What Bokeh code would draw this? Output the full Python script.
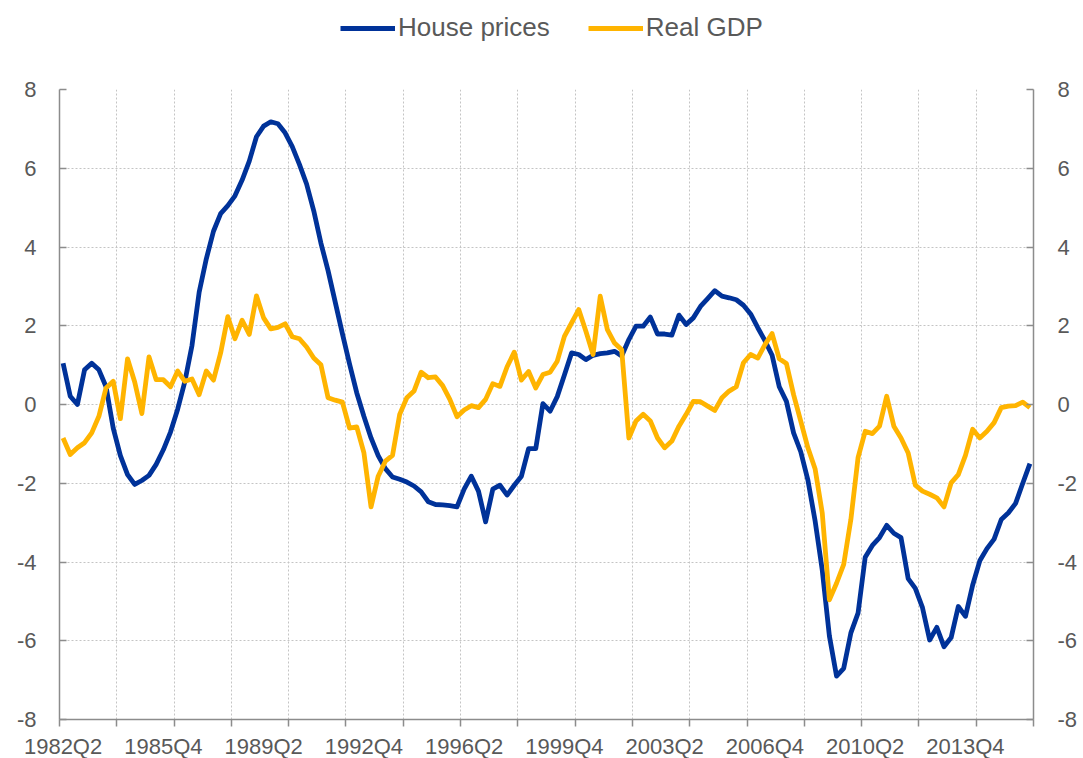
from bokeh.plotting import figure
from bokeh.layouts import column
from bokeh.models import ColumnDataSource, FixedTicker, LinearAxis, Legend, LegendItem, Range1d
from bokeh.embed import file_html
from bokeh.resources import INLINE

# Quarterly categories 1982Q2 .. 2016Q1
quarters = [f"{1982 + (k + 1) // 4}Q{(k + 1) % 4 + 1}" for k in range(136)]

house_prices = [
    1.05, 0.21, 0.00, 0.88, 1.05, 0.88, 0.45, -0.60, -1.30, -1.78,
    -2.03, -1.93, -1.80, -1.52, -1.15, -0.70, -0.12, 0.58, 1.50, 2.85,
    3.70, 4.40, 4.85, 5.05, 5.30, 5.70, 6.18, 6.80, 7.07, 7.18,
    7.13, 6.90, 6.55, 6.10, 5.60, 4.92, 4.10, 3.40, 2.60, 1.80,
    1.03, 0.30, -0.30, -0.85, -1.30, -1.63, -1.84, -1.90, -1.97, -2.07,
    -2.22, -2.47, -2.54, -2.55, -2.57, -2.60, -2.15, -1.82, -2.20, -2.98,
    -2.15, -2.05, -2.30, -2.05, -1.82, -1.12, -1.12, 0.02, -0.17, 0.20,
    0.75, 1.31, 1.27, 1.14, 1.25, 1.29, 1.31, 1.35, 1.23, 1.65,
    1.99, 1.99, 2.22, 1.79, 1.79, 1.76, 2.27, 2.03, 2.20, 2.49,
    2.69, 2.89, 2.75, 2.71, 2.66, 2.52, 2.30, 1.95, 1.62, 1.25,
    0.45, 0.08, -0.72, -1.20, -1.92, -2.95, -4.20, -5.88, -6.90, -6.70,
    -5.80, -5.30, -3.88, -3.58, -3.38, -3.07, -3.27, -3.38, -4.42, -4.67,
    -5.16, -5.98, -5.66, -6.15, -5.92, -5.13, -5.38, -4.59, -3.97, -3.66,
    -3.42, -2.92, -2.75, -2.51, -2.00, -1.50,
]

real_gdp = [
    -0.85, -1.27, -1.10, -0.97, -0.72, -0.30, 0.42, 0.59, -0.36, 1.16,
    0.57, -0.23, 1.21, 0.63, 0.63, 0.45, 0.85, 0.59, 0.65, 0.25,
    0.85, 0.62, 1.31, 2.23, 1.67, 2.14, 1.78, 2.76, 2.20, 1.92,
    1.96, 2.05, 1.72, 1.67, 1.46, 1.18, 1.01, 0.17, 0.11, 0.06,
    -0.60, -0.57, -1.22, -2.60, -1.82, -1.44, -1.29, -0.25, 0.17, 0.34,
    0.82, 0.68, 0.70, 0.48, 0.13, -0.31, -0.14, -0.03, -0.08, 0.13,
    0.53, 0.46, 0.96, 1.33, 0.62, 0.84, 0.42, 0.76, 0.82, 1.10,
    1.73, 2.07, 2.41, 1.86, 1.27, 2.75, 1.90, 1.56, 1.39, -0.85,
    -0.42, -0.25, -0.42, -0.85, -1.10, -0.93, -0.55, -0.25, 0.08, 0.07,
    -0.04, -0.15, 0.17, 0.34, 0.45, 1.06, 1.27, 1.18, 1.52, 1.80,
    1.16, 1.04, 0.25, -0.42, -1.10, -1.63, -2.75, -4.96, -4.54, -4.06,
    -2.92, -1.35, -0.68, -0.74, -0.55, 0.21, -0.55, -0.85, -1.23, -2.05,
    -2.20, -2.28, -2.37, -2.60, -1.99, -1.78, -1.29, -0.63, -0.85, -0.68,
    -0.46, -0.08, -0.04, -0.03, 0.06, -0.08,
]

series_names = ["House prices", "Real GDP"]
y_ticks = [-8, -6, -4, -2, 0, 2, 4, 6, 8]
y_labels = ["-8", "-6", "-4", "-2", "0", "2", "4", "6", "8"]
label_step = 14   # one label every 14 quarters
grid_step = 8     # one grid line / tick mark every 8 quarters

FONT = "Liberation Sans"
TEXT = "#595959"
AXIS = "#8c8c8c"
GRID = "#c4c4c4"
BLUE = "#003299"
YELLOW = "#FFB400"
LW = 4.8
TOP_STRIP = 74      # legend strip height
MAIN_TOP = 15       # space above the plot frame in the main figure

n = len(quarters)
xs = list(range(n))
src = ColumnDataSource(dict(x=xs, hp=house_prices, gdp=real_gdp, q=quarters))

label_pos = list(range(0, n, label_step))
grid_pos = [k - 0.5 for k in range(0, n + 1, grid_step)]

# ---------- legend strip on top ----------
lf = figure(frame_width=974, height=TOP_STRIP, output_backend="svg", toolbar_location=None,
            x_range=Range1d(0, 1), y_range=Range1d(0, 1),
            x_axis_location=None, y_axis_location=None,
            min_border_left=59, min_border_right=5, min_border_top=0, min_border_bottom=0)
lf.outline_line_color = None
lf.xgrid.visible = False
lf.ygrid.visible = False
# legend swatches (kept outside the visible range of this strip)
d_hp = lf.line(x=[5, 6], y=[5, 6], line_color=BLUE, line_width=LW)
d_gdp = lf.line(x=[5, 6], y=[5, 6], line_color=YELLOW, line_width=LW)
legend = Legend(
    items=[LegendItem(label=series_names[0], renderers=[d_hp]),
           LegendItem(label=series_names[1], renderers=[d_gdp])],
    orientation="horizontal", location=(281, TOP_STRIP - 43),
    glyph_width=55, glyph_height=28, label_height=28, label_standoff=3,
    spacing=38, padding=0, margin=0,
    border_line_color=None, background_fill_alpha=0,
    label_text_font=FONT, label_text_font_size="26px", label_text_color=TEXT,
)
lf.add_layout(legend, "center")

# ---------- main chart ----------
p = figure(frame_width=974, frame_height=630,
           output_backend="svg", toolbar_location=None,
           x_range=Range1d(-0.5, n - 0.5), y_range=Range1d(-8, 8),
           min_border_left=59, min_border_top=MAIN_TOP,
           min_border_right=5, min_border_bottom=5)
p.outline_line_color = None
p.background_fill_color = "white"
p.border_fill_color = "white"

# grids
p.xgrid.ticker = FixedTicker(ticks=grid_pos)
p.ygrid.ticker = FixedTicker(ticks=y_ticks)
for g in (p.xgrid, p.ygrid):
    g.grid_line_color = GRID
    g.grid_line_dash = "2 2"
    g.grid_line_width = 1

# x axis
xa = p.xaxis[0]
xa.ticker = FixedTicker(ticks=label_pos, minor_ticks=grid_pos)
xa.major_label_overrides = {i: quarters[i] for i in label_pos}
xa.major_tick_line_color = None
xa.major_tick_out = 0
xa.major_tick_in = 0
xa.minor_tick_out = 7
xa.minor_tick_in = 0
xa.minor_tick_line_color = AXIS
xa.minor_tick_line_width = 1.5
xa.axis_line_color = AXIS
xa.axis_line_width = 1.5
xa.major_label_standoff = 7
xa.major_label_text_font = FONT
xa.major_label_text_font_size = "22px"
xa.major_label_text_color = TEXT

# y axes (left and right)
ya = p.yaxis[0]
yr = LinearAxis()
p.add_layout(yr, "right")
for ax, standoff in ((ya, 23), (yr, 24)):
    ax.ticker = FixedTicker(ticks=y_ticks)
    ax.major_label_overrides = dict(zip(y_ticks, y_labels))
    ax.major_tick_in = 7
    ax.major_tick_out = 0
    ax.major_tick_line_color = AXIS
    ax.major_tick_line_width = 1.5
    ax.minor_tick_line_color = None
    ax.axis_line_color = AXIS
    ax.axis_line_width = 1.5
    ax.major_label_standoff = standoff
    ax.major_label_text_font = FONT
    ax.major_label_text_font_size = "22px"
    ax.major_label_text_color = TEXT

p.line("x", "hp", source=src, line_color=BLUE, line_width=LW, line_join="round")
p.line("x", "gdp", source=src, line_color=YELLOW, line_width=LW, line_join="round")

layout = column(lf, p, spacing=0)
open("out.html", "w").write(file_html(layout, INLINE))
